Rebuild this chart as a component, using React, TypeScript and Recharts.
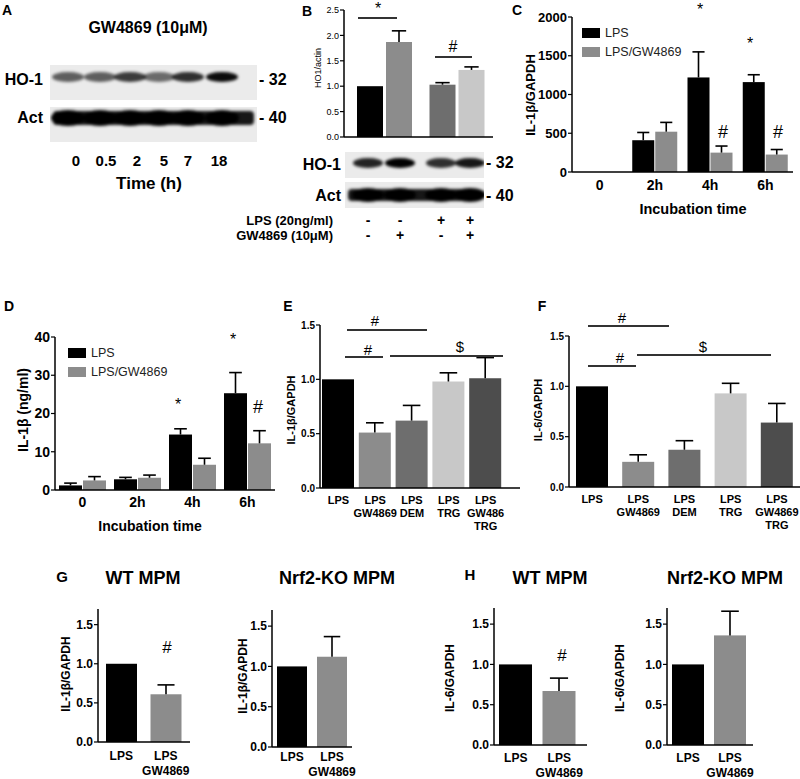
import React from 'react';
import { BarChart, Bar, XAxis, YAxis, Cell, Legend } from 'recharts';

const FONT = '"Liberation Sans", Arial, Helvetica, sans-serif';

// ---------- Panel A (blot) ----------
const aLaneLabels = ['0', '0.5', '2', '5', '7', '18'];
const aHO1Intensity = [0.6, 0.6, 0.75, 0.55, 0.8, 0.95];

// ---------- Panel B ----------
const bCategories = ['LPS -', 'LPS +'];
const bVehicle = [1.0, 1.03];
const bVehicleSem = [0, 0.04];
const bGW = [1.87, 1.32];
const bGWSem = [0.22, 0.06];
const bVehicleColors = ['#000000', '#6e6e6e'];
const bGWColors = ['#8c8c8c', '#c8c8c8'];
const bTicks = [0, 0.5, 1, 1.5, 2, 2.5];
const bLPSRow = ['-', '-', '+', '+'];
const bGWRow = ['-', '+', '-', '+'];
const bHO1Intensity = [0.85, 1.0, 0.8, 0.9];

// ---------- Panel C ----------
const timeCategories = ['0', '2h', '4h', '6h'];
const cLPS = [0, 410, 1220, 1160];
const cLPSSem = [0, 100, 330, 95];
const cGW = [0, 520, 250, 225];
const cGWSem = [0, 120, 85, 65];
const cTicks = [0, 500, 1000, 1500, 2000];

// ---------- Panel D ----------
const dLPS = [1.2, 2.8, 14.5, 25.3];
const dLPSSem = [0.6, 0.5, 1.5, 5.4];
const dGW = [2.5, 3.2, 6.6, 12.2];
const dGWSem = [1.0, 0.7, 1.7, 3.3];
const dTicks = [0, 10, 20, 30, 40];

// ---------- Panels E / F ----------
const eCategories = ['LPS', 'LPS\nGW4869', 'LPS\nDEM', 'LPS\nTRG', 'LPS\nGW486\nTRG'];
const eValues = [1.0, 0.51, 0.62, 0.98, 1.01];
const eSem = [0, 0.09, 0.14, 0.08, 0.19];
const fCategories = ['LPS', 'LPS\nGW4869', 'LPS\nDEM', 'LPS\nTRG', 'LPS\nGW4869\nTRG'];
const fValues = [1.0, 0.25, 0.37, 0.93, 0.64];
const fSem = [0, 0.07, 0.09, 0.1, 0.19];
const treatColors = ['#000000', '#8c8c8c', '#6e6e6e', '#c8c8c8', '#4d4d4d'];
const ratioTicks = [0, 0.5, 1, 1.5];

// ---------- Panels G / H ----------
const pairCategories = ['LPS', 'LPS\nGW4869'];
const pairColors = ['#000000', '#8c8c8c'];
const gWTValues = [1.0, 0.61];
const gWTSem = [0, 0.12];
const gKOValues = [1.0, 1.12];
const gKOSem = [0, 0.25];
const hWTValues = [1.0, 0.67];
const hWTSem = [0, 0.16];
const hKOValues = [1.0, 1.36];
const hKOSem = [0, 0.3];

// ---------- build tables ----------
const bData = bCategories.map((cat, i) => ({ cat, veh: bVehicle[i], vehSem: bVehicleSem[i], gw: bGW[i], gwSem: bGWSem[i] }));
const cData = timeCategories.map((cat, i) => ({ cat, lps: cLPS[i], lpsSem: cLPSSem[i], gw: cGW[i], gwSem: cGWSem[i] }));
const dData = timeCategories.map((cat, i) => ({ cat, lps: dLPS[i], lpsSem: dLPSSem[i], gw: dGW[i], gwSem: dGWSem[i] }));
const eData = eCategories.map((cat, i) => ({ cat, v: eValues[i], sem: eSem[i] }));
const fData = fCategories.map((cat, i) => ({ cat, v: fValues[i], sem: fSem[i] }));
const pair = (vals: number[], sems: number[]) => pairCategories.map((cat, i) => ({ cat, v: vals[i], sem: sems[i] }));
const g1Data = pair(gWTValues, gWTSem);
const g2Data = pair(gKOValues, gKOSem);
const h1Data = pair(hWTValues, hWTSem);
const h2Data = pair(hKOValues, hKOSem);

const fmt1 = (v: number) => v.toFixed(1);
const fmt0 = (v: number) => String(v);

// bar with a top-only error bar (Prism style)
const barWithError = (valueKey: string, semKey: string) => (props: any) => {
  const { x, y, width, height, fill, payload } = props;
  const v = payload ? payload[valueKey] : 0;
  const sem = payload ? payload[semKey] : 0;
  const hasErr = v > 0 && sem > 0 && height > 0;
  const ey = hasErr ? y - (sem * height) / v : y;
  const cx = x + width / 2;
  const cap = width * 0.55;
  return (
    <g>
      <rect x={x} y={y} width={width} height={Math.max(height, 0)} fill={fill} />
      {hasErr && (
        <g stroke="#000" strokeWidth={1.6}>
          <line x1={cx} y1={y} x2={cx} y2={ey} />
          <line x1={cx - cap / 2} y1={ey} x2={cx + cap / 2} y2={ey} />
        </g>
      )}
    </g>
  );
};

const makeXTick = (fontSize: number, lineH: number, dy0: number) => (props: any) => {
  const { x, y, payload } = props;
  const lines = String(payload.value).split('\n');
  return (
    <text x={x} y={y} textAnchor="middle" fontFamily={FONT} fontWeight="bold" fontSize={fontSize} fill="#000">
      {lines.map((l, i) => (
        <tspan key={i} x={x} dy={i === 0 ? dy0 : lineH}>{l}</tspan>
      ))}
    </text>
  );
};

type SeriesDef = { key: string; semKey: string; fill?: string; colors?: string[]; name: string };

type PanelProps = {
  axisX: number; yTop: number; plotW: number; plotH: number; yW?: number;
  data: any[]; series: SeriesDef[]; domain: [number, number]; ticks: number[];
  fmt: (v: number) => string; yFont: number; yBold?: boolean;
  xFont?: number; xLineH?: number; xDy?: number; showX?: boolean;
  padL?: number; padR?: number; barSize: number; barGap?: number;
  legend?: { left: number; top: number };
};

function Panel(p: PanelProps) {
  const yW = p.yW ?? 42;
  const mt = 8, mr = 6, xH = 60;
  const width = yW + p.plotW + mr;
  const height = mt + p.plotH + xH;
  return (
    <div style={{ position: 'absolute', left: p.axisX - yW, top: p.yTop - mt }}>
      <BarChart width={width} height={height} data={p.data} margin={{ top: mt, right: mr, left: 0, bottom: 0 }} barGap={p.barGap ?? 0}>
        <XAxis
          dataKey="cat"
          height={xH}
          axisLine={{ stroke: '#000', strokeWidth: 1.5 }}
          tickLine={false}
          tickSize={0}
          tickMargin={0}
          interval={0}
          padding={{ left: p.padL ?? 0, right: p.padR ?? 0 }}
          tick={p.showX === false ? false : makeXTick(p.xFont ?? 12, p.xLineH ?? 13, p.xDy ?? 14)}
        />
        <YAxis
          width={yW}
          domain={p.domain}
          ticks={p.ticks}
          interval={0}
          tickFormatter={p.fmt}
          axisLine={{ stroke: '#000', strokeWidth: 1.5 }}
          tickLine={{ stroke: '#000', strokeWidth: 1.2 }}
          tickSize={4}
          tickMargin={1}
          tick={{ fontSize: p.yFont, fontWeight: p.yBold === false ? 'normal' : 'bold', fill: '#000', fontFamily: FONT }}
        />
        {p.series.map((s) => (
          <Bar key={s.key} dataKey={s.key} name={s.name} fill={s.fill} barSize={p.barSize} isAnimationActive={false} shape={barWithError(s.key, s.semKey)}>
            {s.colors ? s.colors.map((c, i) => <Cell key={i} fill={c} />) : null}
          </Bar>
        ))}
        {p.legend && (
          <Legend
            layout="horizontal"
            verticalAlign="middle"
            align="center"
            wrapperStyle={{ left: p.legend.left, top: p.legend.top, width: 'auto' }}
            content={() => (
              <div style={{ fontFamily: FONT, fontSize: 12.5, color: '#222' }}>
                {p.series.map((s) => (
                  <div key={s.key} style={{ display: 'flex', alignItems: 'center', height: 19 }}>
                    <div style={{ width: 18, height: 10, background: s.fill, marginRight: 5 }} />
                    <span>{s.name}</span>
                  </div>
                ))}
              </div>
            )}
          />
        )}
      </BarChart>
    </div>
  );
}

type TProps = { x: number; y: number; size: number; bold?: boolean; anchor?: 'start' | 'middle' | 'end'; rotate?: boolean; color?: string; children: React.ReactNode };
function T({ x, y, size, bold = true, anchor = 'middle', rotate = false, color = '#000', children }: TProps) {
  const tx = anchor === 'start' ? '0' : anchor === 'end' ? '-100%' : '-50%';
  return (
    <div
      style={{
        position: 'absolute', left: x, top: y, whiteSpace: 'nowrap', fontFamily: FONT,
        fontSize: size, fontWeight: bold ? 'bold' : 'normal', color, lineHeight: 1,
        transform: `translate(${tx}, -50%)${rotate ? ' rotate(-90deg)' : ''}`,
        transformOrigin: rotate ? '50% 50%' : undefined,
      }}
    >
      {children}
    </div>
  );
}

function HLine({ x1, x2, y }: { x1: number; x2: number; y: number }) {
  return <div style={{ position: 'absolute', left: x1, top: y - 0.75, width: x2 - x1, height: 1.5, background: '#333' }} />;
}

type BlotProps = { x: number; y: number; w: number; h: number; lanes: number[]; bandY: number; bandH: number; bandW: number; intensities: number[]; continuous?: boolean };
function Blot({ x, y, w, h, lanes, bandY, bandH, bandW, intensities, continuous }: BlotProps) {
  const id = `blur${x}_${y}`;
  return (
    <svg style={{ position: 'absolute', left: x, top: y }} width={w} height={h}>
      <defs>
        <filter id={id} x="-20%" y="-60%" width="140%" height="220%">
          <feGaussianBlur stdDeviation="1.8" />
        </filter>
      </defs>
      <rect width={w} height={h} fill="#ebebeb" />
      <g filter={`url(#${id})`}>
        {continuous && <rect x={3} y={bandY - y - bandH / 2 + 1} width={w - 6} height={bandH - 2} rx={4} fill="#000" opacity={0.9} />}
        {lanes.map((cx, i) => (
          <ellipse key={i} cx={cx - x} cy={bandY - y} rx={bandW / 2} ry={bandH / 2} fill="#000" opacity={intensities[i]} />
        ))}
      </g>
    </svg>
  );
}

const aLaneX = [68, 100, 130, 159, 188, 222];
const bLaneX = [368, 400, 441, 470];

export default function App() {
  return (
    <div style={{ position: 'absolute', left: 0, top: 0, width: 800, height: 779, background: '#fff', overflow: 'hidden', fontFamily: FONT }}>
      {/* ---------------- A ---------------- */}
      <T x={7} y={10} size={14}>A</T>
      <T x={148} y={28} size={16}>GW4869 (10μM)</T>
      <Blot x={50} y={65} w={207} h={35} lanes={aLaneX} bandY={77} bandH={10} bandW={32} intensities={aHO1Intensity} />
      <Blot x={50} y={107} w={207} h={35} lanes={aLaneX} bandY={118} bandH={16} bandW={34} intensities={aLaneX.map(() => 1)} continuous />
      <T x={43} y={80} size={16} anchor="end">HO-1</T>
      <T x={43} y={118} size={16} anchor="end">Act</T>
      <T x={259} y={80} size={16} anchor="start">- 32</T>
      <T x={259} y={118} size={16} anchor="start">- 40</T>
      {aLaneLabels.map((l, i) => (
        <T key={l} x={[76, 106, 137, 164, 188, 219][i]} y={160} size={15}>{l}</T>
      ))}
      <T x={149} y={183} size={17}>Time (h)</T>

      {/* ---------------- B ---------------- */}
      <T x={307} y={11} size={14}>B</T>
      <Panel axisX={344} yTop={10} plotW={149} plotH={127} yW={30} data={bData}
        series={[
          { key: 'veh', semKey: 'vehSem', colors: bVehicleColors, name: 'vehicle' },
          { key: 'gw', semKey: 'gwSem', colors: bGWColors, name: 'GW4869' },
        ]}
        domain={[0, 2.5]} ticks={bTicks} fmt={fmt1} yFont={9} yBold={false} showX={false}
        padL={4} barSize={26} barGap={3} />
      <T x={318} y={68} size={9} bold={false} rotate>HO1/actin</T>
      <HLine x1={358} x2={397} y={18} />
      <T x={378} y={9} size={16} bold={false}>*</T>
      <HLine x1={435} x2={472} y={57} />
      <T x={453} y={47} size={16} bold={false}>#</T>
      <Blot x={345} y={152} w={139} h={26} lanes={bLaneX} bandY={163} bandH={10} bandW={30} intensities={bHO1Intensity} />
      <Blot x={345} y={182} w={139} h={26} lanes={bLaneX} bandY={195} bandH={14} bandW={32} intensities={bLaneX.map(() => 1)} continuous />
      <T x={341} y={165} size={16} anchor="end">HO-1</T>
      <T x={341} y={196} size={16} anchor="end">Act</T>
      <T x={486} y={163} size={16} anchor="start">- 32</T>
      <T x={486} y={196} size={16} anchor="start">- 40</T>
      <T x={333} y={220} size={13} anchor="end">LPS (20ng/ml)</T>
      <T x={333} y={235} size={13} anchor="end">GW4869 (10μM)</T>
      {bLPSRow.map((s, i) => <T key={'l' + i} x={bLaneX[i]} y={220} size={14}>{s}</T>)}
      {bGWRow.map((s, i) => <T key={'g' + i} x={bLaneX[i]} y={235} size={14}>{s}</T>)}

      {/* ---------------- C ---------------- */}
      <T x={517} y={10} size={14}>C</T>
      <Panel axisX={572} yTop={17} plotW={221} plotH={155} yW={42} data={cData}
        series={[
          { key: 'lps', semKey: 'lpsSem', fill: '#000000', name: 'LPS' },
          { key: 'gw', semKey: 'gwSem', fill: '#8c8c8c', name: 'LPS/GW4869' },
        ]}
        domain={[0, 2000]} ticks={cTicks} fmt={fmt0} yFont={13}
        xFont={14} xDy={18} barSize={22} barGap={1}
        legend={{ left: 52, top: 14 }} />
      <T x={530} y={95} size={13} rotate>IL-1β/GAPDH</T>
      <T x={693} y={209} size={14.5}>Incubation time</T>
      <T x={700} y={10} size={16} bold={false}>*</T>
      <T x={750} y={44} size={16} bold={false}>*</T>
      <T x={723} y={132} size={18} bold={false}>#</T>
      <T x={778} y={132} size={18} bold={false}>#</T>

      {/* ---------------- D ---------------- */}
      <T x={9} y={306} size={14}>D</T>
      <Panel axisX={55} yTop={337} plotW={220} plotH={153} yW={42} data={dData}
        series={[
          { key: 'lps', semKey: 'lpsSem', fill: '#000000', name: 'LPS' },
          { key: 'gw', semKey: 'gwSem', fill: '#8c8c8c', name: 'LPS/GW4869' },
        ]}
        domain={[0, 40]} ticks={dTicks} fmt={fmt0} yFont={14}
        xFont={14} xDy={17} barSize={23} barGap={1}
        legend={{ left: 55, top: 14 }} />
      <T x={23} y={410} size={14} rotate>IL-1β (ng/ml)</T>
      <T x={150} y={526} size={14}>Incubation time</T>
      <T x={178} y={405} size={16} bold={false}>*</T>
      <T x={233} y={340} size={16} bold={false}>*</T>
      <T x={258} y={407} size={18} bold={false}>#</T>

      {/* ---------------- E ---------------- */}
      <T x={288} y={306} size={14}>E</T>
      <Panel axisX={320} yTop={325} plotW={200} plotH={163} yW={34} data={eData}
        series={[{ key: 'v', semKey: 'sem', colors: treatColors, name: 'IL-1β/GAPDH' }]}
        domain={[0, 1.5]} ticks={ratioTicks} fmt={fmt1} yFont={10}
        xFont={11} xLineH={13} xDy={16} barSize={32} padR={16} />
      <T x={291} y={410} size={11} rotate>IL-1β/GAPDH</T>
      <HLine x1={347} x2={427} y={330} />
      <T x={375} y={320} size={15} bold={false}>#</T>
      <HLine x1={345} x2={383} y={357} />
      <T x={368} y={349} size={15} bold={false}>#</T>
      <HLine x1={390} x2={503} y={356} />
      <T x={460} y={346} size={15} bold={false}>$</T>

      {/* ---------------- F ---------------- */}
      <T x={542} y={306} size={14}>F</T>
      <Panel axisX={569} yTop={336} plotW={231} plotH={151} yW={34} data={fData}
        series={[{ key: 'v', semKey: 'sem', colors: treatColors, name: 'IL-6/GAPDH' }]}
        domain={[0, 1.5]} ticks={ratioTicks} fmt={fmt1} yFont={10}
        xFont={11} xLineH={13} xDy={16} barSize={32} />
      <T x={538} y={410} size={11} rotate>IL-6/GAPDH</T>
      <HLine x1={588} x2={669} y={326} />
      <T x={622} y={317} size={15} bold={false}>#</T>
      <HLine x1={588} x2={636} y={366} />
      <T x={620} y={357} size={15} bold={false}>#</T>
      <HLine x1={637} x2={771} y={355} />
      <T x={703} y={346} size={15} bold={false}>$</T>

      {/* ---------------- G ---------------- */}
      <T x={62} y={576} size={15}>G</T>
      <T x={143} y={578} size={18}>WT MPM</T>
      <T x={337} y={578} size={18}>Nrf2-KO MPM</T>
      <Panel axisX={98} yTop={609} plotW={92} plotH={133} yW={34} data={g1Data}
        series={[{ key: 'v', semKey: 'sem', colors: pairColors, name: 'IL-1β/GAPDH' }]}
        domain={[0, 1.7]} ticks={ratioTicks} fmt={fmt1} yFont={12}
        xFont={12} xLineH={15} xDy={18} barSize={31} padL={1} padR={2} />
      <T x={66} y={674} size={12} rotate>IL-1β/GAPDH</T>
      <T x={167} y={647} size={17} bold={false}>#</T>
      <Panel axisX={272} yTop={610} plotW={80} plotH={137} yW={34} data={g2Data}
        series={[{ key: 'v', semKey: 'sem', colors: pairColors, name: 'IL-1β/GAPDH' }]}
        domain={[0, 1.7]} ticks={ratioTicks} fmt={fmt1} yFont={12}
        xFont={12} xLineH={15} xDy={14} barSize={30} />
      <T x={243} y={676} size={12} rotate>IL-1β/GAPDH</T>

      {/* ---------------- H ---------------- */}
      <T x={470} y={574} size={15}>H</T>
      <T x={550} y={578} size={18}>WT MPM</T>
      <T x={725} y={578} size={18}>Nrf2-KO MPM</T>
      <Panel axisX={494} yTop={608} plotW={93} plotH={137} yW={34} data={h1Data}
        series={[{ key: 'v', semKey: 'sem', colors: pairColors, name: 'IL-6/GAPDH' }]}
        domain={[0, 1.7]} ticks={ratioTicks} fmt={fmt1} yFont={12}
        xFont={12} xLineH={15} xDy={17} barSize={33} padR={6} />
      <T x={450} y={678} size={12} rotate>IL-6/GAPDH</T>
      <T x={562} y={655} size={17} bold={false}>#</T>
      <Panel axisX={667} yTop={608} plotW={86} plotH={137} yW={34} data={h2Data}
        series={[{ key: 'v', semKey: 'sem', colors: pairColors, name: 'IL-6/GAPDH' }]}
        domain={[0, 1.7]} ticks={ratioTicks} fmt={fmt1} yFont={12}
        xFont={12} xLineH={15} xDy={17} barSize={32} padR={2} />
      <T x={620} y={678} size={12} rotate>IL-6/GAPDH</T>
    </div>
  );
}
